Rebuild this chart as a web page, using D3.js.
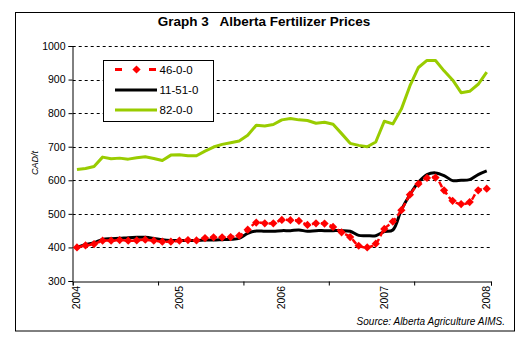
<!DOCTYPE html>
<html><head><meta charset="utf-8">
<script src="https://cdn.jsdelivr.net/npm/d3@7"></script>
<style>body{margin:0;background:#fff}svg{display:block}</style>
</head><body>
<svg id="c" width="527" height="343"></svg>
<script>
const title = "Graph 3   Alberta Fertilizer Prices";
const yearLabels = ["2004","2005","2006","2007","2008"];
const yTicks = [300,400,500,600,700,800,900,1000];
const seriesNames = ["46-0-0","11-51-0","82-0-0"];
// monthly Jan 2004 .. Jan 2008
const months = [];
yearLabels.forEach((y,yi)=>{ for(let m=1;m<=12;m++){ if(yi<4||m===1) months.push(y+"-"+String(m).padStart(2,"0")); } });
const urea = [400,406,410,420,420,422,420,421,423,420,417,417,420,422,421,428,430,430,431,435,453,474,472,472,482,481,479,467,472,471,461,445,431,405,400,411,455,477,511,557,589,607,608,570,539,529,535,570,575];
const map = [400,409,414,424,426,427,429,430,430,427,423,421,421,421,421,422,422,423,424,427,442,449,448,448,450,450,452,448,450,450,450,450,448,436,435,435,447,452,512,557,594,617,622,614,599,600,602,617,628];
const anhydrous = [632,635,641,669,664,666,663,667,670,665,659,675,676,673,673,687,699,707,712,717,734,764,762,766,780,784,780,778,770,773,767,739,710,704,700,714,776,768,812,881,936,957,957,926,899,861,865,886,922];

const svg = d3.select("#c");
const font = "'Liberation Sans', Arial, sans-serif";

svg.append("rect").attr("x",15.5).attr("y",12.5).attr("width",499).attr("height",318.5)
  .attr("fill","#fff").attr("stroke","#000").attr("stroke-width",1);

svg.append("text").attr("x",264).attr("y",26).attr("text-anchor","middle")
  .style("white-space","pre")
  .attr("font-family",font).attr("font-weight","bold").attr("font-size",13.5).text(title);

const xL = d3.scaleLinear().domain([0, months.length]).range([72.7, 491]);
const xc = i => xL(i + 0.5);
const y = d3.scaleLinear().domain([300,1000]).range([281,46]);

// gridlines
svg.append("g").selectAll("line").data(yTicks.filter(v=>v>300)).join("line")
  .attr("x1",72.7).attr("x2",491).attr("y1",d=>Math.round(y(d))+0.5).attr("y2",d=>Math.round(y(d))+0.5)
  .attr("stroke","#000").attr("stroke-width",1).attr("stroke-dasharray","3,3");

// y axis
const ya = svg.append("g").attr("transform","translate(72.5,0)")
  .call(d3.axisLeft(y).tickValues(yTicks).tickSize(4).tickPadding(3).tickFormat(d3.format("d")));
ya.select(".domain").attr("stroke","#000");
ya.selectAll("text").attr("font-family",font).attr("font-size",10.5).attr("fill","#000");

// x axis
const xa = svg.append("g").attr("transform","translate(0,281.5)")
  .call(d3.axisBottom(xL).tickValues([0,10,20,30,40,months.length]).tickSize(4).tickFormat(""));
xa.select(".domain").attr("stroke","#000");
const yearIdx = yearLabels.map(yv => months.indexOf(yv+"-01"));
svg.append("g").selectAll("text").data(yearIdx).join("text")
  .attr("transform",(d)=>`translate(${xc(d)+3.5},286) rotate(-90)`)
  .attr("text-anchor","end").attr("font-family",font).attr("font-size",10.5)
  .text((d,i)=>yearLabels[i]);

svg.append("text").attr("transform","translate(38,163) rotate(-90)").attr("text-anchor","middle")
  .attr("font-family",font).attr("font-size",9).attr("font-style","italic").text("CAD/t");

// lines
const lineSmooth = d3.line().x((d,i)=>xc(i)).y(d=>y(d)).curve(d3.curveCatmullRom.alpha(0.5));
const lineLin = d3.line().x((d,i)=>xc(i)).y(d=>y(d));
svg.append("path").attr("d",lineLin(anhydrous)).attr("fill","none").attr("stroke","#99CC00").attr("stroke-width",3).attr("stroke-linejoin","round");
svg.append("path").attr("d",lineSmooth(map)).attr("fill","none").attr("stroke","#000").attr("stroke-width",3);
svg.append("path").attr("d",lineSmooth(urea)).attr("fill","none").attr("stroke","#FF0000").attr("stroke-width",2.5).attr("stroke-dasharray","6,3");
const diamond = d3.symbol().type(d3.symbolSquare).size(34);
svg.append("g").selectAll("path").data(urea).join("path")
  .attr("d",diamond).attr("transform",(d,i)=>`translate(${xc(i)},${y(d)}) rotate(45)`).attr("fill","#FF0000");

// legend
const lg = svg.append("g");
lg.append("rect").attr("x",103.5).attr("y",60.5).attr("width",110).attr("height",61).attr("fill","#fff").attr("stroke","#000");
const ly = [69.5, 90, 110];
seriesNames.forEach((n,k)=>{
  const yy = ly[k];
  if(k===0){
    lg.append("path").attr("d",diamond).attr("transform",`translate(136.5,${yy}) rotate(45)`).attr("fill","#FF0000");
    lg.append("line").attr("x1",115).attr("x2",122).attr("y1",yy).attr("y2",yy).attr("stroke","#FF0000").attr("stroke-width",3);
    lg.append("line").attr("x1",149).attr("x2",156).attr("y1",yy).attr("y2",yy).attr("stroke","#FF0000").attr("stroke-width",3);
  } else {
    lg.append("line").attr("x1",115).attr("x2",157).attr("y1",yy).attr("y2",yy).attr("stroke",k===1?"#000":"#99CC00").attr("stroke-width",3);
  }
  lg.append("text").attr("x",159.5).attr("y",yy+4).attr("font-family",font).attr("font-size",11.5).text(n);
});

svg.append("text").attr("x",505).attr("y",325).attr("text-anchor","end").attr("font-family",font)
  .attr("font-size",10).attr("font-style","italic").text("Source: Alberta Agriculture AIMS.");
</script>
</body></html>
